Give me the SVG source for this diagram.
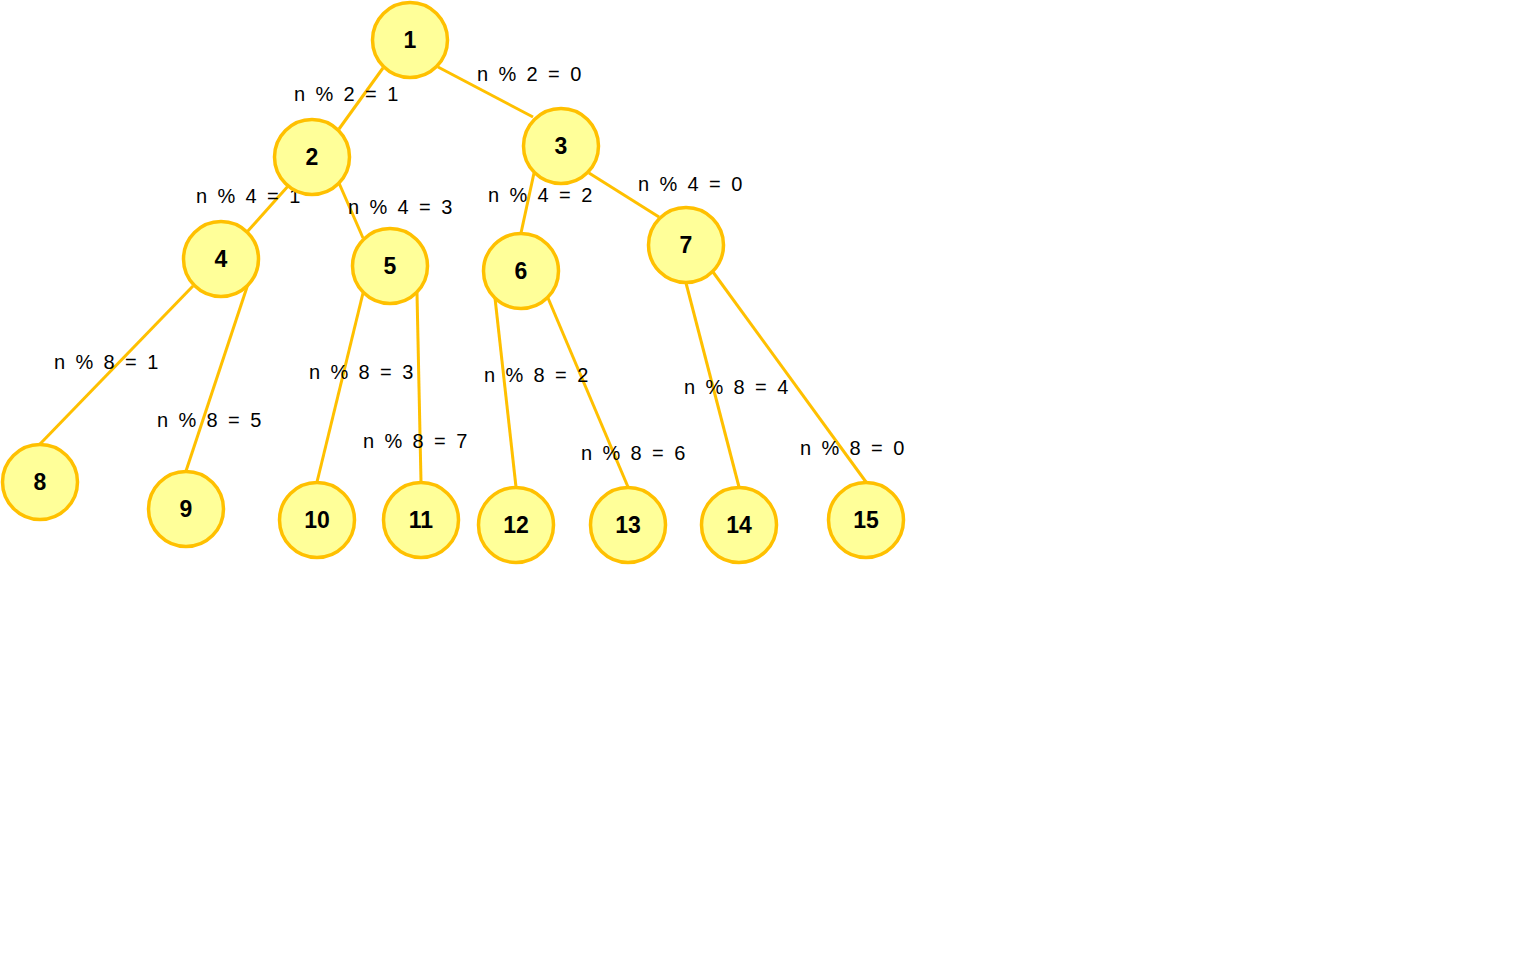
<svg xmlns="http://www.w3.org/2000/svg" width="1536" height="953" viewBox="0 0 1536 953">
<style>
.e{stroke:#ffc000;stroke-width:3;fill:none}
.n circle{fill:#ffff99;stroke:#ffc000;stroke-width:3.5}
.n text{font-family:"Liberation Sans",Arial,sans-serif;font-size:23px;font-weight:bold;fill:#000;text-anchor:middle}
.l{font-family:"Liberation Sans",Arial,sans-serif;font-size:20px;fill:#000;letter-spacing:2.4px}
</style>
<rect width="1536" height="953" fill="#fff"/>
<g id="connectors">
<line class="e" x1="383" y1="68" x2="339" y2="129"/>
<line class="e" x1="438" y1="67" x2="533" y2="117"/>
<line class="e" x1="289" y1="185" x2="247" y2="232"/>
<line class="e" x1="339" y1="183" x2="363" y2="238"/>
<line class="e" x1="534" y1="173" x2="521" y2="233"/>
<line class="e" x1="589" y1="173" x2="659" y2="217"/>
<line class="e" x1="193" y1="286" x2="40" y2="444"/>
<line class="e" x1="248" y1="284" x2="186" y2="471"/>
<line class="e" x1="363" y1="293" x2="317" y2="482"/>
<line class="e" x1="417" y1="293" x2="421" y2="482"/>
<line class="e" x1="495" y1="298" x2="516" y2="487"/>
<line class="e" x1="548" y1="298" x2="628" y2="487"/>
<line class="e" x1="686" y1="283" x2="739" y2="487"/>
<line class="e" x1="713" y1="272" x2="866" y2="482"/>
<text class="l" x="294" y="101">n % 2 = 1</text>
<text class="l" x="477" y="81">n % 2 = 0</text>
<text class="l" x="196" y="203">n % 4 = 1</text>
<text class="l" x="348" y="214">n % 4 = 3</text>
<text class="l" x="488" y="202">n % 4 = 2</text>
<text class="l" x="638" y="191">n % 4 = 0</text>
<text class="l" x="54" y="369">n % 8 = 1</text>
<text class="l" x="157" y="427">n % 8 = 5</text>
<text class="l" x="309" y="379">n % 8 = 3</text>
<text class="l" x="363" y="448">n % 8 = 7</text>
<text class="l" x="484" y="382">n % 8 = 2</text>
<text class="l" x="581" y="460">n % 8 = 6</text>
<text class="l" x="684" y="394">n % 8 = 4</text>
<text class="l" x="800" y="455">n % 8 = 0</text>
</g>
<g id="node1" class="n"><circle cx="410" cy="40" r="37.5"/><text x="410" y="48">1</text></g>
<g id="node2" class="n"><circle cx="312" cy="157" r="37.5"/><text x="312" y="165">2</text></g>
<g id="node3" class="n"><circle cx="561" cy="146" r="37.5"/><text x="561" y="154">3</text></g>
<g id="node4" class="n"><circle cx="221" cy="259" r="37.5"/><text x="221" y="267">4</text></g>
<g id="node5" class="n"><circle cx="390" cy="266" r="37.5"/><text x="390" y="274">5</text></g>
<g id="node6" class="n"><circle cx="521" cy="271" r="37.5"/><text x="521" y="279">6</text></g>
<g id="node7" class="n"><circle cx="686" cy="245" r="37.5"/><text x="686" y="253">7</text></g>
<g id="node8" class="n"><circle cx="40" cy="482" r="37.5"/><text x="40" y="490">8</text></g>
<g id="node9" class="n"><circle cx="186" cy="509" r="37.5"/><text x="186" y="517">9</text></g>
<g id="node10" class="n"><circle cx="317" cy="520" r="37.5"/><text x="317" y="528">10</text></g>
<g id="node11" class="n"><circle cx="421" cy="520" r="37.5"/><text x="421" y="528">11</text></g>
<g id="node12" class="n"><circle cx="516" cy="525" r="37.5"/><text x="516" y="533">12</text></g>
<g id="node13" class="n"><circle cx="628" cy="525" r="37.5"/><text x="628" y="533">13</text></g>
<g id="node14" class="n"><circle cx="739" cy="525" r="37.5"/><text x="739" y="533">14</text></g>
<g id="node15" class="n"><circle cx="866" cy="520" r="37.5"/><text x="866" y="528">15</text></g>
</svg>
